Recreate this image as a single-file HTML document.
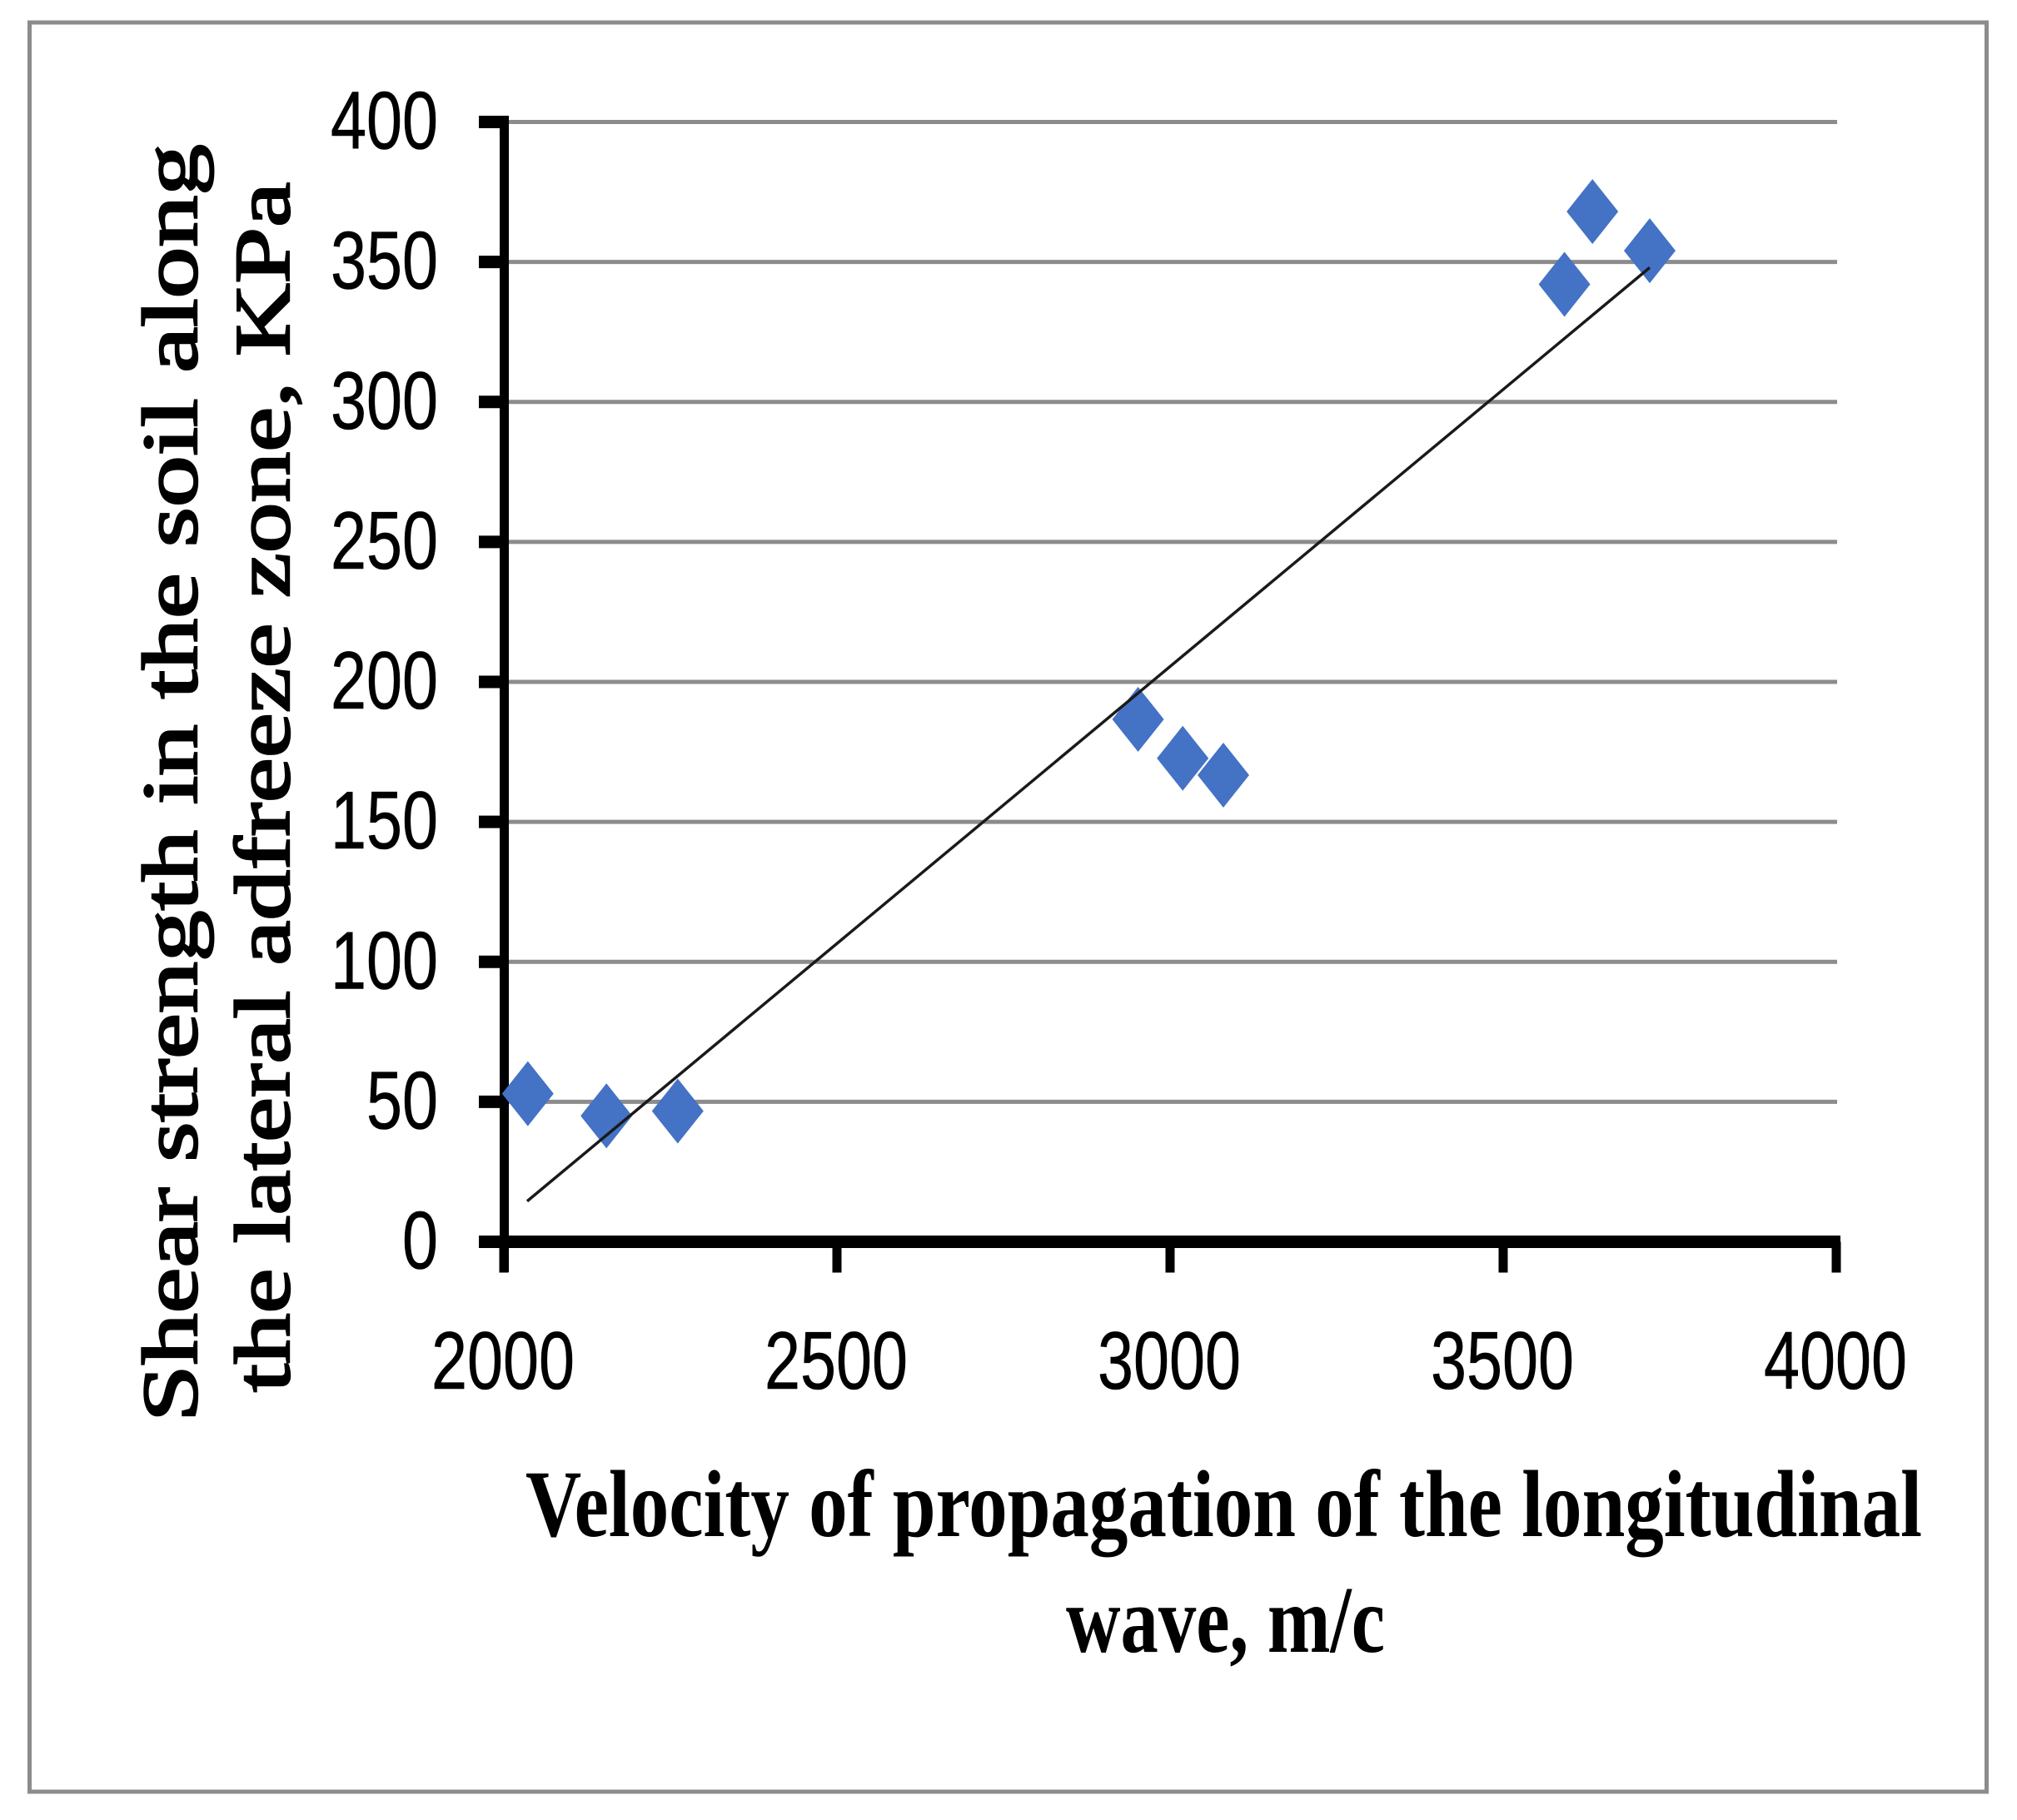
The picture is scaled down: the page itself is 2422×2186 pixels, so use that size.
<!DOCTYPE html>
<html lang="en">
<head>
<meta charset="utf-8">
<title>Shear strength vs longitudinal wave velocity</title>
<style>
html,body{margin:0;padding:0;background:#fff;}
svg{display:block;}
</style>
</head>
<body>
<svg id="chart" xmlns="http://www.w3.org/2000/svg" width="2422" height="2186" viewBox="0 0 2422 2186">
<rect x="0" y="0" width="2422" height="2186" fill="#ffffff"/>
<rect x="35.5" y="27" width="2350" height="2125" fill="none" stroke="#8c8c8c" stroke-width="5"/>
<g id="grid"></g>
<g id="axes"></g>
<g id="yTicks"></g>
<g id="xTicks"></g>
<g id="points"></g>
<g id="trend"></g>
<text transform="translate(236,1708) rotate(-90)" font-family="'Liberation Serif',serif" font-weight="400" font-size="94" stroke="#000" stroke-width="2.4" textLength="1535" lengthAdjust="spacingAndGlyphs" fill="#000">Shear strength in the soil along</text>
<text transform="translate(347,1672) rotate(-90)" font-family="'Liberation Serif',serif" font-weight="400" font-size="94" stroke="#000" stroke-width="2.4" textLength="1453" lengthAdjust="spacingAndGlyphs" fill="#000">the lateral adfreeze zone, KPa</text>
<text x="631" y="1845" font-family="'Liberation Serif',serif" font-weight="700" font-size="114" textLength="1677" lengthAdjust="spacingAndGlyphs" fill="#000">Velocity of propagation of the longitudinal</text>
<text x="1280" y="1984" font-family="'Liberation Serif',serif" font-weight="700" font-size="114" textLength="383" lengthAdjust="spacingAndGlyphs" fill="#000">wave, m/c</text>
</svg>
<script>
const xValues = [2036, 2154, 2261, 2952, 3019, 3080, 3592, 3634, 3720];
const yValues = [52.9, 45, 46.7, 186.6, 172.7, 166.7, 342, 368, 354];
const trendX = [2035, 3720];
const trendY = [14.5, 348];
const xTickValues = [2000, 2500, 3000, 3500, 4000];
const yTickValues = [0, 50, 100, 150, 200, 250, 300, 350, 400];

const NS = 'http://www.w3.org/2000/svg';
const sx = v => 605 + (v - 2000) * 0.8;
const sy = v => 1491.5 - v * 3.3625;

function make(tag, attrs, parent) {
  const el = document.createElementNS(NS, tag);
  for (const k in attrs) el.setAttribute(k, attrs[k]);
  parent.appendChild(el);
  return el;
}
const grid = document.getElementById('grid');
const axes = document.getElementById('axes');
const yT = document.getElementById('yTicks');
const xT = document.getElementById('xTicks');
const pts = document.getElementById('points');
const trend = document.getElementById('trend');

yTickValues.forEach(v => {
  if (v > 0) {
    const g = make('line', {x1: 608, x2: 2206, y1: sy(v), y2: sy(v), stroke: '#8c8c8c', 'stroke-width': 5}, grid);
    
    
  }
  const t = make('rect', {x: 575, y: sy(v) - 7.5, width: 30, height: 15, fill: '#000'}, axes);
  
  
  const label = make('text', {
    x: 526, y: sy(v) + 32, 'text-anchor': 'end',
    'font-family': "'Liberation Sans',sans-serif", 'font-size': 98,
    stroke: '#000', 'stroke-width': 0.6,
    textLength: 43 * String(v).length, lengthAdjust: 'spacingAndGlyphs', fill: '#000'
  }, yT);
  label.textContent = v;
  
  
});

const yAxis = make('rect', {x: 600, y: sy(400) - 7.5, width: 11, height: sy(0) - sy(400) + 44, fill: '#000'}, axes);


const xAxis = make('rect', {x: 575, y: sy(0) - 7.5, width: sx(4000) - 575 + 5, height: 15, fill: '#000'}, axes);



xTickValues.forEach(v => {
  const t = make('rect', {x: sx(v) - 5.5, y: sy(0), width: 11, height: 37, fill: '#000'}, axes);
  
  
  const label = make('text', {
    x: sx(v) - 1, y: 1668, 'text-anchor': 'middle',
    'font-family': "'Liberation Sans',sans-serif", 'font-size': 98,
    stroke: '#000', 'stroke-width': 0.6,
    textLength: 172, lengthAdjust: 'spacingAndGlyphs', fill: '#000'
  }, xT);
  label.textContent = v;
  
  
});

xValues.forEach((v, i) => {
  const cx = sx(v), cy = sy(yValues[i]);
  const p = make('polygon', {
    points: [[cx, cy - 39], [cx + 31, cy], [cx, cy + 39], [cx - 31, cy]].map(a => a.join(',')).join(' '),
    fill: '#4472c4'
  }, pts);
  
  
});

const line = make('line', {
  x1: sx(trendX[0]), y1: sy(trendY[0]), x2: sx(trendX[1]), y2: sy(trendY[1]),
  stroke: '#1a1a1a', 'stroke-width': 3.5
}, trend);


</script>
</body>
</html>
